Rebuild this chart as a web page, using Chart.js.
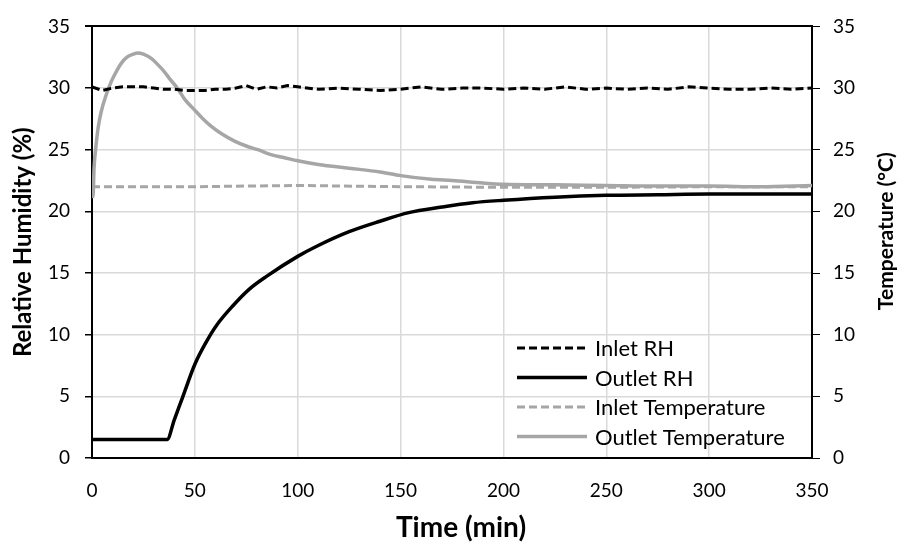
<!DOCTYPE html>
<html>
<head>
<meta charset="utf-8">
<script src="https://cdn.jsdelivr.net/npm/chart.js@4"></script>
<style>
  html, body { margin: 0; padding: 0; background: #fff; }
  #wrap { width: 898px; height: 542px; }
</style>
</head>
<body>
<div id="wrap"><canvas id="chartrh"></canvas></div>
<script>
// time axis (min)
const inletRhTime = [0, 5, 10, 15, 20, 25, 30, 35, 40, 45, 50, 55, 60, 65, 70, 75, 80, 85, 90, 95,
  100, 110, 120, 130, 140, 150, 160, 170, 180, 190, 200, 210, 220, 230, 240, 250, 260, 270,
  280, 290, 300, 310, 320, 330, 340, 350];
const inletRh = [30.1, 29.8, 30.0, 30.1, 30.1, 30.1, 30.0, 29.9, 29.9, 29.8, 29.8, 29.8, 29.9,
  29.9, 30.0, 30.2, 29.9, 30.1, 30.0, 30.2, 30.1, 29.9, 30.0, 29.9, 29.8, 29.9, 30.1, 29.9,
  30.0, 30.0, 29.9, 30.0, 29.9, 30.1, 29.9, 30.0, 29.9, 30.0, 29.9, 30.1, 30.0, 29.9, 29.9,
  30.0, 29.9, 30.0];

const outletRhTime = [0, 36.5, 40, 44, 50, 55.5, 60.5, 68.5, 76.5, 85, 100, 109, 125, 140, 154,
  170, 185, 200, 225, 250, 275, 300, 325, 350];
const outletRh = [1.5, 1.5, 3.1, 4.9, 7.6, 9.4, 10.75, 12.35, 13.7, 14.75, 16.35, 17.15, 18.35,
  19.2, 19.9, 20.35, 20.7, 20.9, 21.15, 21.3, 21.35, 21.4, 21.4, 21.4];

const inletTempTime = [0, 50, 100, 150, 200, 250, 300, 350];
const inletTemp = [22.0, 22.0, 22.1, 22.0, 21.95, 21.95, 22.0, 22.0];

const outletTempTime = [0, 0.5, 1, 2, 3, 4.5, 7, 9.3, 12, 14.2, 17, 20, 22.3, 25, 28.8, 32, 35.3,
  38, 41.7, 45, 50, 54, 58, 63, 69.3, 75, 80.6, 87, 93.6, 100, 110, 125, 140, 150, 165, 175,
  190, 200, 225, 250, 275, 300, 325, 350];
const outletTemp = [21.9, 21.2, 23.5, 25.4, 26.8, 28.1, 29.5, 30.5, 31.4, 32.0, 32.5, 32.75, 32.85,
  32.75, 32.4, 31.9, 31.3, 30.7, 29.95, 29.1, 28.2, 27.5, 26.9, 26.3, 25.7, 25.3, 25.0, 24.6,
  24.35, 24.1, 23.8, 23.5, 23.2, 22.9, 22.6, 22.5, 22.3, 22.2, 22.15, 22.1, 22.05, 22.05,
  22.0, 22.1];

const timeTicks = [0, 50, 100, 150, 200, 250, 300, 350];

const GRAY = '#a6a6a6';
const GRID = '#d9d9d9';
const FONT = 'Lato, "Liberation Sans", sans-serif';

function pts(xs, ys) {
  return xs.map((x, i) => ({ x: x, y: ys[i] }));
}

// legend drawn inside the plot, bottom right
const insideLegend = {
  id: 'insideLegend',
  afterDatasetsDraw(chart) {
    const ctx = chart.ctx;
    const a = chart.chartArea;
    const x0 = a.right - 295;
    const x1 = x0 + 70;
    const rowH = 29.5;
    const y0 = a.bottom - 110;
    ctx.save();
    ctx.font = '22px ' + FONT;
    ctx.textBaseline = 'middle';
    ctx.textAlign = 'left';
    chart.data.datasets.forEach((ds, i) => {
      const y = y0 + i * rowH;
      ctx.strokeStyle = ds.borderColor;
      ctx.lineWidth = ds.borderWidth;
      ctx.setLineDash(ds.borderDash || []);
      ctx.beginPath();
      ctx.moveTo(x0, y);
      ctx.lineTo(x1, y);
      ctx.stroke();
      ctx.fillStyle = '#000';
      ctx.fillText(ds.label, x1 + 8, y + 1);
    });
    ctx.restore();
  }
};

// right axis title (reads bottom to top) and the time title
const extraTitles = {
  id: 'extraTitles',
  afterDraw(chart) {
    const ctx = chart.ctx;
    const a = chart.chartArea;
    ctx.save();
    ctx.fillStyle = '#000';
    ctx.textAlign = 'center';
    ctx.textBaseline = 'middle';
    ctx.font = 'bold 28px ' + FONT;
    ctx.fillText('Time (min)', (a.left + a.right) / 2 + 9, chart.height - 14);
    ctx.translate(chart.width - 12, (a.top + a.bottom) / 2 - 11);
    ctx.rotate(-Math.PI / 2);
    ctx.font = 'bold 21px ' + FONT;
    ctx.fillText('Temperature (°C)', 0, 0);
    ctx.restore();
  }
};

const data = {
  datasets: [{
    label: 'Inlet RH',
    data: pts(inletRhTime, inletRh),
    borderColor: '#000',
    borderWidth: 3,
    borderDash: [8, 4],
    yAxisID: 'y',
  }, {
    label: 'Outlet RH',
    data: pts(outletRhTime, outletRh),
    borderColor: '#000',
    borderWidth: 3.5,
    cubicInterpolationMode: 'monotone',
    yAxisID: 'y',
  }, {
    label: 'Inlet Temperature',
    data: pts(inletTempTime, inletTemp),
    borderColor: GRAY,
    borderWidth: 3,
    borderDash: [8, 4],
    yAxisID: 'y2',
  }, {
    label: 'Outlet Temperature',
    data: pts(outletTempTime, outletTemp),
    borderColor: GRAY,
    borderWidth: 3.5,
    cubicInterpolationMode: 'monotone',
    yAxisID: 'y2',
  }]
};

const tickFont = { family: FONT, size: 19 };
const titleFont = { family: FONT, size: 24, weight: 'bold', lineHeight: 1 };

const config = {
  type: 'line',
  data: data,
  options: {
    responsive: true,
    maintainAspectRatio: false,
    animation: false,
    layout: { padding: { top: 20, left: 0, right: 0, bottom: 0 } },
    elements: { point: { radius: 0 }, line: { tension: 0 } },
    plugins: {
      legend: { display: false },
      tooltip: { enabled: false },
    },
    scales: {
      x: {
        type: 'linear',
        min: 0,
        max: 350,
        afterBuildTicks: s => { s.ticks = timeTicks.map(v => ({ value: v })); },
        afterFit: s => { s.height = 84; },
        ticks: { color: '#000', font: tickFont, padding: 21 },
        grid: { color: GRID, lineWidth: 1.5, drawTicks: false },
        border: { color: '#000', width: 2 },
      },
      y: {
        position: 'left',
        min: 0,
        max: 35,
        ticks: { stepSize: 5, color: '#000', font: tickFont, padding: 15 },
        afterFit: s => { s.width = 92; },
        grid: {
          color: c => (c.tick && c.tick.value === 35 ? '#000' : GRID),
          lineWidth: c => (c.tick && c.tick.value === 35 ? 2 : 1.5),
          tickColor: '#000',
          tickLength: 7,
        },
        border: { color: '#000', width: 2 },
        title: {
          display: true, text: 'Relative Humidity (%)', color: '#000', font: titleFont,
          padding: { top: 11, bottom: 0 },
        },
      },
      y2: {
        position: 'right',
        min: 0,
        max: 35,
        ticks: { stepSize: 5, color: '#000', font: tickFont, padding: 13 },
        afterFit: s => { s.width = 86; },
        grid: { drawOnChartArea: false, tickColor: '#000', tickLength: 8 },
        border: { color: '#000', width: 2 },
      },
    },
  },
  plugins: [insideLegend, extraTitles],
};

const chartrh = new Chart(document.getElementById('chartrh'), config);
</script>
</body>
</html>
